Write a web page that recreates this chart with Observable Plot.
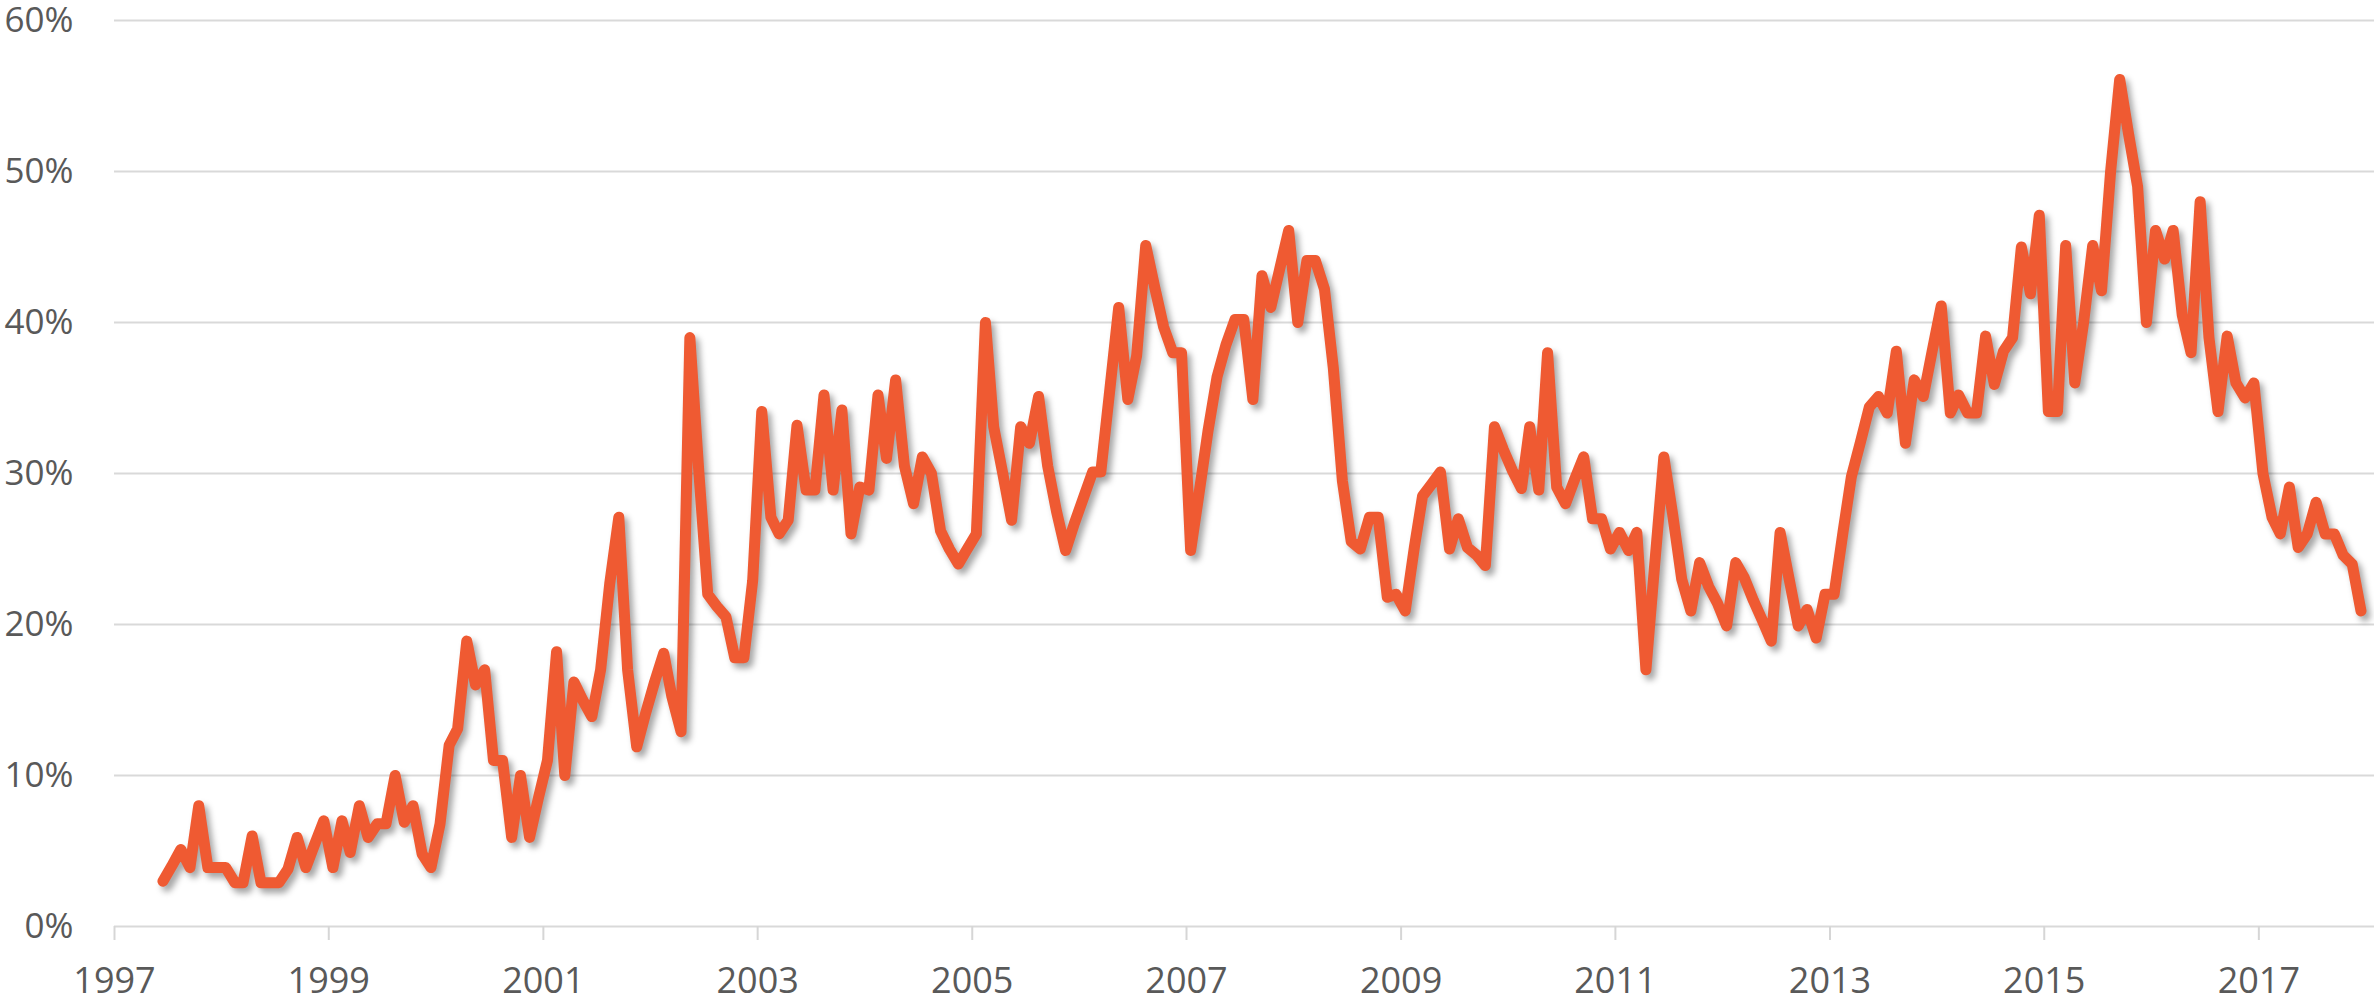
<!DOCTYPE html>
<html>
<head>
<meta charset="utf-8">
<script src="https://cdn.jsdelivr.net/npm/d3@7"></script>
<script src="https://cdn.jsdelivr.net/npm/@observablehq/plot@0.6"></script>
<style>
  html, body { margin: 0; padding: 0; background: #ffffff; }
  #chart { width: 2374px; height: 1004px; overflow: hidden; }
</style>
</head>
<body>
<div id="chart"></div>
<script>
// Monthly series, first value = June 1997, last value = December 2017 (percent)
const firstYear = 1997;
const firstMonthIndex = 5; // June (0-based)
const values = [
  3.0, 4.0, 5.1, 3.9, 8.0, 3.9, 3.9,                                   // 1997 Jun-Dec
  3.9, 2.9, 2.9, 6.0, 2.9, 2.9, 2.9, 3.8, 5.9, 3.9, 5.5, 7.0,           // 1998
  3.9, 7.0, 4.9, 8.0, 5.9, 6.8, 6.8, 10.0, 6.9, 8.0, 4.8, 3.9,          // 1999
  6.8, 12.0, 13.1, 18.9, 16.0, 17.0, 11.0, 11.0, 5.9, 10.0, 5.9, 8.5,   // 2000
  11.0, 18.2, 10.0, 16.2, 15.0, 13.9, 17.0, 22.7, 27.1, 17.0, 11.9, 14.1, // 2001
  16.2, 18.1, 15.2, 12.9, 39.0, 30.0, 22.0, 21.2, 20.5, 17.8, 17.8, 22.9, // 2002
  34.1, 27.1, 26.0, 26.9, 33.2, 28.9, 28.9, 35.2, 28.9, 34.2, 26.0, 29.1, // 2003
  28.9, 35.2, 31.0, 36.2, 30.5, 28.0, 31.1, 30.0, 26.2, 25.0, 24.0, 25.0, // 2004
  26.0, 40.0, 33.1, 30.0, 26.9, 33.1, 32.0, 35.1, 30.5, 27.5, 24.9, 26.7, // 2005
  28.4, 30.1, 30.1, 35.6, 41.0, 34.9, 37.8, 45.1, 42.3, 39.7, 38.0, 38.0, // 2006
  24.9, 29.0, 32.8, 36.4, 38.5, 40.2, 40.2, 34.9, 43.1, 41.0, 43.6, 46.1, // 2007
  40.0, 44.1, 44.1, 42.2, 37.0, 29.5, 25.5, 25.0, 27.1, 27.1, 21.8, 22.0, // 2008
  20.9, 25.1, 28.5, 29.3, 30.1, 25.0, 27.0, 25.1, 24.6, 23.9, 33.1, 31.6, // 2009
  30.2, 29.0, 33.1, 28.9, 38.0, 29.1, 28.0, 29.6, 31.1, 27.0, 27.0, 25.0, // 2010
  26.1, 24.9, 26.1, 17.0, 24.0, 31.1, 27.3, 23.0, 20.9, 24.1, 22.5, 21.4, // 2011
  19.9, 24.1, 23.1, 21.6, 20.3, 18.9, 26.1, 23.0, 19.9, 21.0, 19.1, 22.0, // 2012
  22.0, 26.2, 29.8, 32.1, 34.4, 35.1, 34.0, 38.1, 32.0, 36.2, 35.1, 38.1, // 2013
  41.1, 34.0, 35.2, 34.0, 34.0, 39.1, 35.9, 38.1, 39.0, 45.0, 41.9, 47.1, // 2014
  34.1, 34.1, 45.1, 36.0, 40.0, 45.1, 42.1, 50.0, 56.1, 52.5, 49.0, 40.0, // 2015
  46.1, 44.2, 46.1, 40.5, 38.0, 48.0, 39.0, 34.1, 39.1, 36.0, 35.0, 36.0, // 2016
  30.0, 27.1, 26.0, 29.1, 25.1, 26.0, 28.1, 26.0, 26.0, 24.6, 24.0, 20.9  // 2017
];
const xTickYears = [1997, 1999, 2001, 2003, 2005, 2007, 2009, 2011, 2013, 2015, 2017];
const yTickValues = [0, 10, 20, 30, 40, 50, 60];

const data = values.map((v, i) => ({
  date: new Date(Date.UTC(firstYear, firstMonthIndex + i, 15)),
  value: v
}));
const xTickDates = xTickYears.map(y => new Date(Date.UTC(y, 0, 1)));

const chart = Plot.plot({
  width: 2374,
  height: 1004,
  marginLeft: 114,
  marginRight: 0,
  marginTop: 20,
  marginBottom: 78,
  style: {
    fontFamily: "'Open Sans', 'Noto Sans', sans-serif",
    background: "transparent",
    overflow: "visible"
  },
  x: {type: "utc", domain: [new Date(Date.UTC(1997, 0, 1)), new Date(Date.UTC(2018, 0, 30))]},
  y: {domain: [0, 60]},
  marks: [
    Plot.gridY(yTickValues, {stroke: "#d9d9d9", strokeOpacity: 1, strokeWidth: 2}),
    Plot.axisY(yTickValues, {
      tickSize: 0, tickPadding: 41, tickFormat: d => d + "%",
      fill: "#595959", fontSize: 35, label: null
    }),
    Plot.axisX(xTickDates, {
      tickSize: 14, tickPadding: 27, tickFormat: d3.utcFormat("%Y"),
      stroke: "#d6d6d6", strokeWidth: 2, fill: "#595959", fontSize: 36, label: null
    }),
    Plot.lineY(data, {
      x: "date", y: "value",
      stroke: "#ef5a32", strokeWidth: 11,
      strokeLinejoin: "round", strokeLinecap: "round"
    })
  ]
});

d3.select(chart).selectAll('g[aria-label="line"]')
  .style("filter", "drop-shadow(4px 5px 3px rgba(0,0,0,0.35))");

document.getElementById("chart").appendChild(chart);
</script>
</body>
</html>
